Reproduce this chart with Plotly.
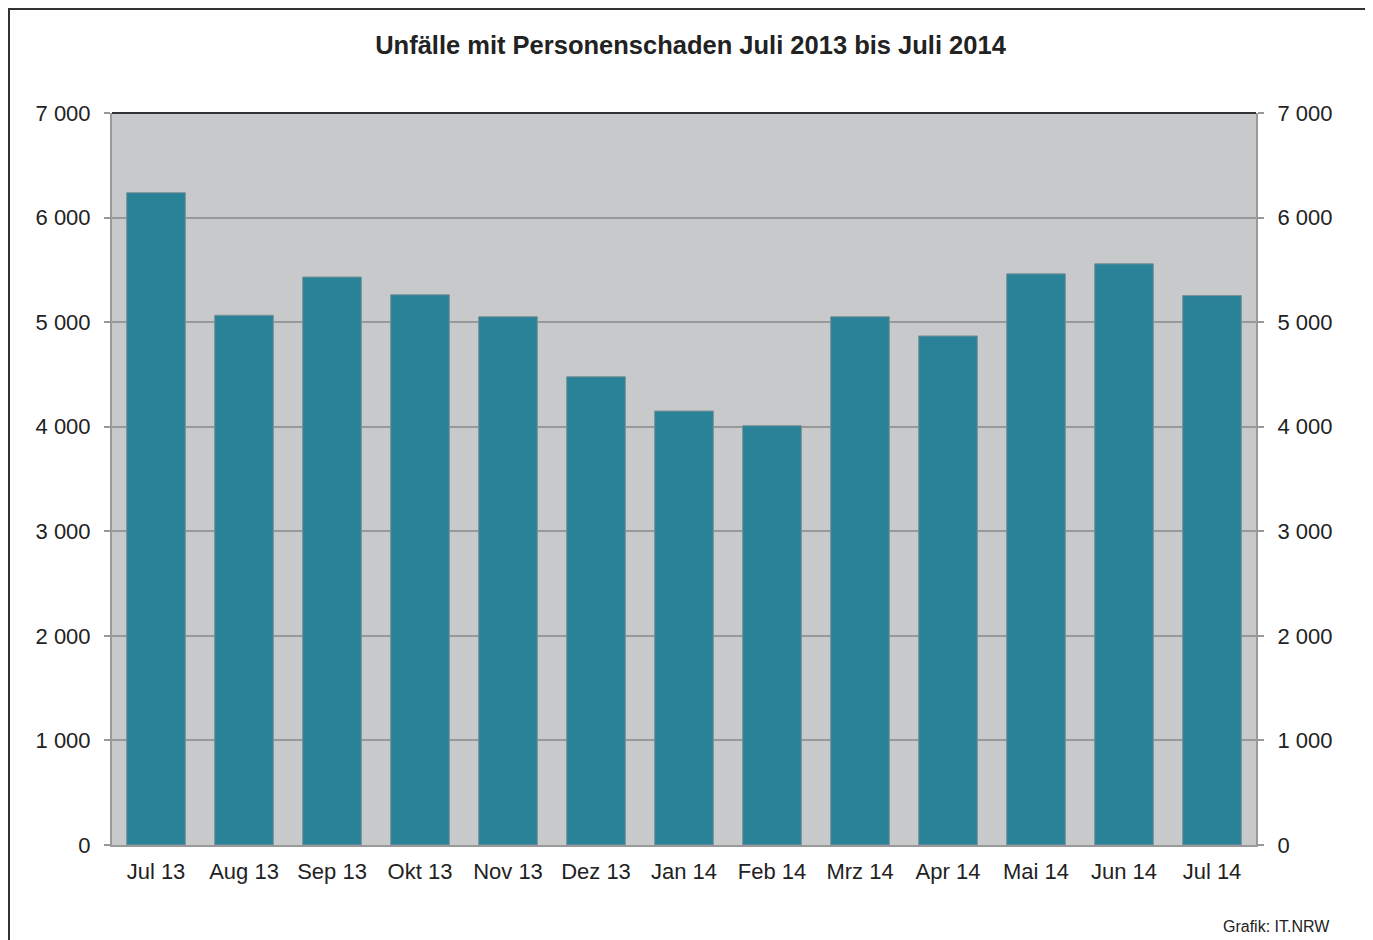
import plotly.graph_objects as go

months = ["Jul 13", "Aug 13", "Sep 13", "Okt 13", "Nov 13", "Dez 13", "Jan 14",
          "Feb 14", "Mrz 14", "Apr 14", "Mai 14", "Jun 14", "Jul 14"]
unfaelle = [6238, 5066, 5432, 5262, 5052, 4478, 4150, 4010, 5052, 4868, 5462, 5558, 5254]
tick_vals = [0, 1000, 2000, 3000, 4000, 5000, 6000, 7000]
title_text = "Unfälle mit Personenschaden Juli 2013 bis Juli 2014"
source_text = "Grafik: IT.NRW"

# page body has an 8px margin, so the figure starts at screen (8, 8)
OFF = 8
W, H = 1373 - OFF, 940 - OFF
L, T = 112 - OFF, 113 - OFF
R = W - (1256 - OFF)
B = H - (845 - OFF)
pw, ph = W - L - R, H - T - B

def px(x_screen):
    return (x_screen - OFF - L) / pw

def py(y_screen):
    return (H - B - (y_screen - OFF)) / ph

font = "Liberation Sans, Arial, sans-serif"

fig = go.Figure()
fig.add_trace(go.Bar(
    x=months, y=unfaelle,
    marker=dict(color="#2A8299", line=dict(color="#7d9198", width=1)),
    hoverinfo="x+y",
))
fig.add_trace(go.Scatter(
    x=months, y=unfaelle, yaxis="y2", mode="markers",
    marker=dict(opacity=0), hoverinfo="skip", showlegend=False,
))

axis_common = dict(
    range=[0, 7000], tickvals=tick_vals, tickformat=",d",
    ticks="outside", ticklen=6, tickcolor="#999999", tickwidth=1.5,
    showline=True, linecolor="#999999", linewidth=2,
    tickfont=dict(family=font, size=22, color="#222222"),
    zeroline=False, ticklabelstandoff=9,
)

fig.update_layout(
    width=W, height=H,
    margin=dict(l=L, r=R, t=T, b=B),
    paper_bgcolor="white",
    plot_bgcolor="#C8C9CB",
    separators=", ",
    showlegend=False,
    bargap=0.333,
    title=dict(text="<b>" + title_text + "</b>", x=0.5, xanchor="center",
               y=1 - (45 - OFF) / H, yanchor="middle",
               font=dict(family=font, size=25.5, color="#222222")),
    xaxis=dict(
        range=[-0.5, len(months) - 0.5],
        showline=True, linecolor="#999999", linewidth=2,
        ticks="", tickfont=dict(family=font, size=22, color="#222222"),
        showgrid=False, ticklabelstandoff=6,
    ),
    yaxis=dict(**axis_common, showgrid=True, gridcolor="#999999", gridwidth=1.5),
    yaxis2=dict(**axis_common, overlaying="y", side="right", showgrid=False),
)

# top border of plot area
fig.add_shape(type="line", xref="paper", yref="paper", x0=0, x1=1, y0=1, y1=1,
              line=dict(color="#333333", width=2))
# outer frame
fig.add_shape(type="rect", xref="paper", yref="paper",
              x0=px(9), x1=px(1367), y0=py(9), y1=py(980),
              line=dict(color="#333333", width=2), fillcolor="rgba(0,0,0,0)")

fig.add_annotation(text=source_text, xref="paper", yref="paper",
                   x=px(1332), y=py(926), xanchor="right", yanchor="middle",
                   showarrow=False, font=dict(family=font, size=16, color="#222222"))

fig.write_html("out.html")
